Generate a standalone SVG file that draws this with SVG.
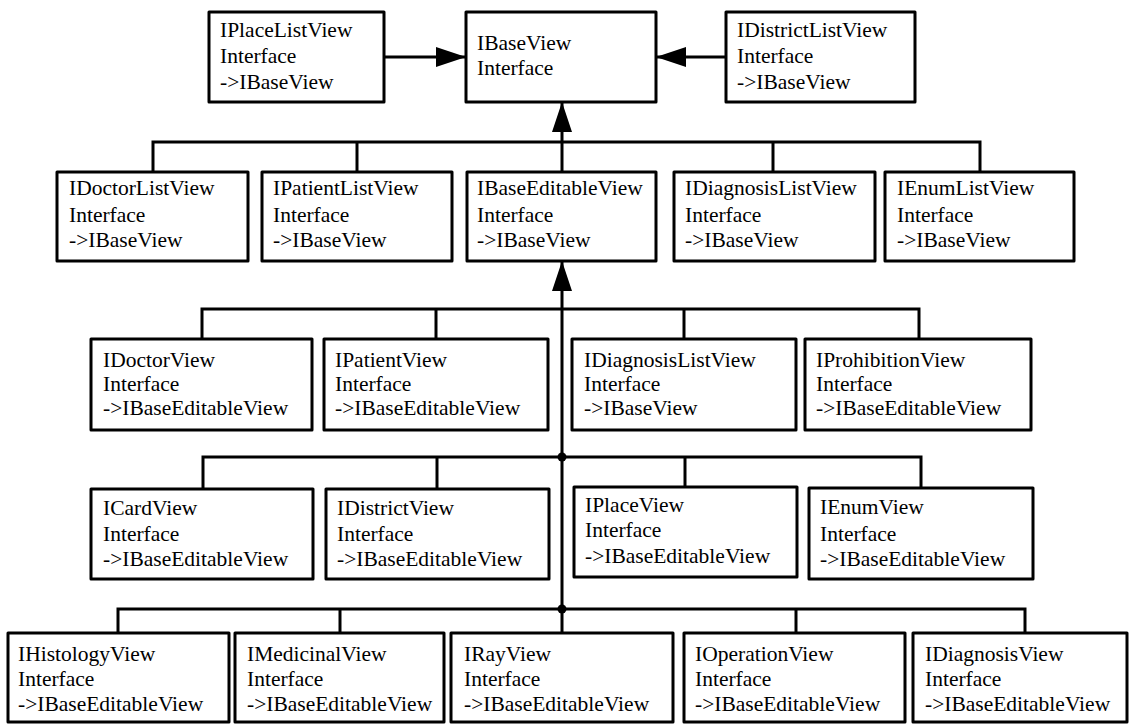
<svg xmlns="http://www.w3.org/2000/svg" width="1130" height="724" viewBox="0 0 1130 724">
<style>
.box{fill:#fff;stroke:#000;stroke-width:3;stroke-linejoin:round}
.t{font-family:"Liberation Serif","Times New Roman",serif;font-size:21.5px;fill:#000}
.c{fill:none;stroke:#000;stroke-width:3;stroke-linejoin:miter}
</style>
<defs>
<marker id="ah" viewBox="0 0 30 20" refX="30" refY="10" markerWidth="30" markerHeight="20" markerUnits="userSpaceOnUse" orient="auto">
<path d="M0,0 L30,10 L0,20 Z" fill="#000"/>
</marker>
</defs>
<rect width="1130" height="724" fill="#fff"/>
<g id="connectors">
<line class="c" x1="384" y1="57" x2="466" y2="57" marker-end="url(#ah)"/>
<line class="c" x1="726" y1="57" x2="656" y2="57" marker-end="url(#ah)"/>
<line class="c" x1="562" y1="172" x2="562" y2="102" marker-end="url(#ah)"/>
<polyline class="c" points="153,172 153,142 980,142 980,172"/>
<line class="c" x1="357" y1="142" x2="357" y2="172"/>
<line class="c" x1="773" y1="142" x2="773" y2="172"/>
<line class="c" x1="562" y1="633" x2="562" y2="261" marker-end="url(#ah)"/>
<polyline class="c" points="202,339 202,309 919,309 919,339"/>
<line class="c" x1="436" y1="309" x2="436" y2="339"/>
<line class="c" x1="684" y1="309" x2="684" y2="339"/>
<polyline class="c" points="203,489 203,457 921,457 921,488"/>
<line class="c" x1="437" y1="457" x2="437" y2="489"/>
<line class="c" x1="685" y1="457" x2="685" y2="487"/>
<circle cx="562" cy="457" r="4.5" fill="#000"/>
<polyline class="c" points="118,633 118,609 1025,609 1025,633"/>
<line class="c" x1="340" y1="609" x2="340" y2="633"/>
<line class="c" x1="796" y1="609" x2="796" y2="633"/>
<circle cx="562" cy="609" r="4.5" fill="#000"/>
</g>
<g id="IPlaceListView"><rect class="box" x="209" y="12" width="175" height="90"/><text class="t" x="220" y="37">IPlaceListView</text><text class="t" x="220" y="63">Interface</text><text class="t" x="220" y="89">-&gt;IBaseView</text></g>
<g id="IBaseView"><rect class="box" x="466" y="12" width="190" height="90"/><text class="t" x="477" y="50">IBaseView</text><text class="t" x="477" y="75">Interface</text></g>
<g id="IDistrictListView"><rect class="box" x="726" y="12" width="189" height="90"/><text class="t" x="737" y="37">IDistrictListView</text><text class="t" x="737" y="63">Interface</text><text class="t" x="737" y="89">-&gt;IBaseView</text></g>

<g id="IDoctorListView"><rect class="box" x="57" y="172" width="191" height="89"/><text class="t" x="69" y="195">IDoctorListView</text><text class="t" x="69" y="222">Interface</text><text class="t" x="69" y="247">-&gt;IBaseView</text></g>
<g id="IPatientListView"><rect class="box" x="262" y="172" width="190" height="89"/><text class="t" x="273" y="195">IPatientListView</text><text class="t" x="273" y="222">Interface</text><text class="t" x="273" y="247">-&gt;IBaseView</text></g>
<g id="IBaseEditableView"><rect class="box" x="467" y="172" width="189" height="89"/><text class="t" x="477" y="195">IBaseEditableView</text><text class="t" x="477" y="222">Interface</text><text class="t" x="477" y="247">-&gt;IBaseView</text></g>
<g id="IDiagnosisListView1"><rect class="box" x="674" y="172" width="201" height="89"/><text class="t" x="685" y="195">IDiagnosisListView</text><text class="t" x="685" y="222">Interface</text><text class="t" x="685" y="247">-&gt;IBaseView</text></g>
<g id="IEnumListView"><rect class="box" x="885" y="172" width="189" height="89"/><text class="t" x="897" y="195">IEnumListView</text><text class="t" x="897" y="222">Interface</text><text class="t" x="897" y="247">-&gt;IBaseView</text></g>

<g id="IDoctorView"><rect class="box" x="91" y="339" width="221" height="91"/><text class="t" x="103" y="367">IDoctorView</text><text class="t" x="103" y="391">Interface</text><text class="t" x="103" y="415">-&gt;IBaseEditableView</text></g>
<g id="IPatientView"><rect class="box" x="324" y="339" width="224" height="91"/><text class="t" x="335" y="367">IPatientView</text><text class="t" x="335" y="391">Interface</text><text class="t" x="335" y="415">-&gt;IBaseEditableView</text></g>
<g id="IDiagnosisListView2"><rect class="box" x="572" y="339" width="224" height="91"/><text class="t" x="584" y="367">IDiagnosisListView</text><text class="t" x="584" y="391">Interface</text><text class="t" x="584" y="415">-&gt;IBaseView</text></g>
<g id="IProhibitionView"><rect class="box" x="805" y="339" width="226" height="91"/><text class="t" x="816" y="367">IProhibitionView</text><text class="t" x="816" y="391">Interface</text><text class="t" x="816" y="415">-&gt;IBaseEditableView</text></g>

<g id="ICardView"><rect class="box" x="91" y="489" width="222" height="90"/><text class="t" x="103" y="515">ICardView</text><text class="t" x="103" y="541">Interface</text><text class="t" x="103" y="566">-&gt;IBaseEditableView</text></g>
<g id="IDistrictView"><rect class="box" x="326" y="489" width="223" height="90"/><text class="t" x="337" y="515">IDistrictView</text><text class="t" x="337" y="541">Interface</text><text class="t" x="337" y="566">-&gt;IBaseEditableView</text></g>
<g id="IPlaceView"><rect class="box" x="574" y="487" width="223" height="90"/><text class="t" x="585" y="512">IPlaceView</text><text class="t" x="585" y="537">Interface</text><text class="t" x="585" y="563">-&gt;IBaseEditableView</text></g>
<g id="IEnumView"><rect class="box" x="809" y="488" width="224" height="91"/><text class="t" x="820" y="514">IEnumView</text><text class="t" x="820" y="541">Interface</text><text class="t" x="820" y="566">-&gt;IBaseEditableView</text></g>

<g id="IHistologyView"><rect class="box" x="8" y="633" width="221" height="89"/><text class="t" x="18" y="661">IHistologyView</text><text class="t" x="18" y="686">Interface</text><text class="t" x="18" y="711">-&gt;IBaseEditableView</text></g>
<g id="IMedicinalView"><rect class="box" x="235" y="633" width="209" height="89"/><text class="t" x="247" y="661">IMedicinalView</text><text class="t" x="247" y="686">Interface</text><text class="t" x="247" y="711">-&gt;IBaseEditableView</text></g>
<g id="IRayView"><rect class="box" x="451" y="633" width="222" height="89"/><text class="t" x="464" y="661">IRayView</text><text class="t" x="464" y="686">Interface</text><text class="t" x="464" y="711">-&gt;IBaseEditableView</text></g>
<g id="IOperationView"><rect class="box" x="684" y="633" width="221" height="89"/><text class="t" x="695" y="661">IOperationView</text><text class="t" x="695" y="686">Interface</text><text class="t" x="695" y="711">-&gt;IBaseEditableView</text></g>
<g id="IDiagnosisView"><rect class="box" x="913" y="633" width="214" height="89"/><text class="t" x="925" y="661">IDiagnosisView</text><text class="t" x="925" y="686">Interface</text><text class="t" x="925" y="711">-&gt;IBaseEditableView</text></g>
</svg>
